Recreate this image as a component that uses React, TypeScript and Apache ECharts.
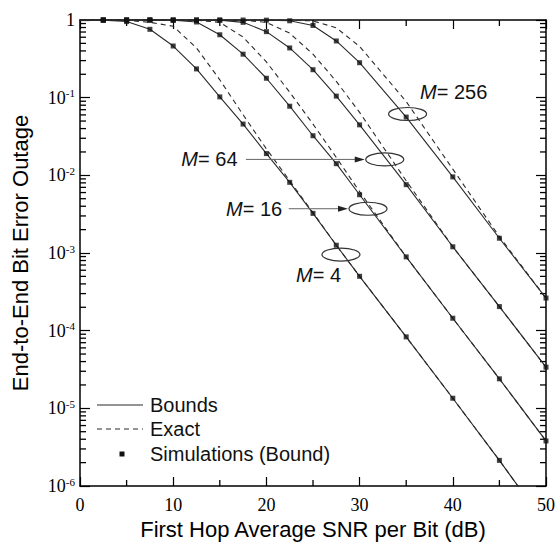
import React, { useEffect, useRef } from 'react';
import * as echarts from 'echarts';

// First hop average SNR per bit (dB)
const snr = [0, 2.5, 5, 7.5, 10, 12.5, 15, 17.5, 20, 22.5, 25, 27.5, 30, 35, 40, 45, 50];

// log10 of end-to-end bit error outage
const boundM4 = [0, -0.003, -0.02, -0.12, -0.335, -0.63, -0.99, -1.34, -1.72, -2.09, -2.49, -2.9, -3.3, -4.08, -4.87, -5.67, -6.5];
const exactM4 = [0, 0, -0.003, -0.03, -0.08, -0.36, -0.77, -1.22, -1.66, -2.07, -2.48, -2.9, -3.3, -4.08, -4.87, -5.67, -6.5];
const boundM16 = [0, 0, 0, 0, -0.003, -0.026, -0.19, -0.44, -0.75, -1.11, -1.49, -1.85, -2.25, -3.05, -3.84, -4.62, -5.42];
const exactM16 = [0, 0, 0, 0, 0, -0.003, -0.03, -0.22, -0.54, -0.93, -1.34, -1.77, -2.21, -3.05, -3.84, -4.62, -5.42];
const boundM64 = [0, 0, 0, 0, 0, 0, -0.002, -0.03, -0.15, -0.36, -0.64, -0.98, -1.35, -2.12, -2.92, -3.69, -4.47];
const exactM64 = [0, 0, 0, 0, 0, 0, 0, -0.003, -0.03, -0.17, -0.44, -0.79, -1.19, -2.07, -2.92, -3.69, -4.47];
const boundM256 = [0, 0, 0, 0, 0, 0, 0, 0, -0.002, -0.01, -0.07, -0.27, -0.55, -1.25, -2.02, -2.81, -3.58];
const exactM256 = [0, 0, 0, 0, 0, 0, 0, 0, 0, 0, -0.012, -0.1, -0.34, -1.05, -1.92, -2.79, -3.58];

// simulation points sit on the bound curves at these SNRs
const simSnr = [2.5, 5, 7.5, 10, 12.5, 15, 17.5, 20, 22.5, 25, 27.5, 30, 35, 40, 45, 50];

const boundSets = [boundM4, boundM16, boundM64, boundM256];
const exactSets = [exactM4, exactM16, exactM64, exactM256];

// minor tick positions
const minorMantissas = [2, 3, 4, 5, 6, 7, 8, 9];
const decades = [-6, -5, -4, -3, -2, -1];
const xMinorTicks = [5, 15, 25, 35, 45];

// annotations: label, ellipse center (snr, log10 outage), label position, arrow start snr
const annotations = [
  { label: '256', ex: 35.15, ey: -1.21, lx: 40.1, ly: -0.93, align: 'center', arrowFrom: null as number | null },
  { label: '64', ex: 32.7, ey: -1.795, lx: 16.9, ly: -1.795, align: 'right', arrowFrom: 17.8 },
  { label: '16', ex: 30.9, ey: -2.43, lx: 21.7, ly: -2.43, align: 'right', arrowFrom: 22.4 },
  { label: '4', ex: 28.0, ey: -3.02, lx: 25.6, ly: -3.28, align: 'center', arrowFrom: null as number | null },
];

const SANS = '"Liberation Sans", Arial, sans-serif';
const SERIF = '"Liberation Serif", "Times New Roman", serif';
const LINE = '#2a2a2a';

export default function App() {
  const ref = useRef<HTMLDivElement>(null);

  useEffect(() => {
    if (!ref.current) return;
    const chart = echarts.init(ref.current, null, { renderer: 'svg' });

    const toPts = (arr: number[]) => snr.map((x, i) => [x, Math.pow(10, arr[i])]);
    const series: any[] = [];
    boundSets.forEach((b) => {
      series.push({
        type: 'line', name: 'Bounds', data: toPts(b), showSymbol: false, symbol: 'none',
        lineStyle: { color: LINE, width: 1.1 }, z: 3,
      });
    });
    exactSets.forEach((e) => {
      series.push({
        type: 'line', name: 'Exact', data: toPts(e), showSymbol: false, symbol: 'none',
        lineStyle: { color: LINE, width: 1.1, type: [5, 4] }, z: 3,
      });
    });
    boundSets.forEach((b) => {
      const pts = simSnr
        .map((x) => [x, Math.pow(10, b[snr.indexOf(x)])])
        .filter((p) => p[1] >= 1e-6);
      series.push({
        type: 'scatter', name: 'Simulations (Bound)', data: pts, symbol: 'rect', symbolSize: 5,
        itemStyle: { color: '#111' }, z: 4,
      });
    });

    const axisLine = { show: true, onZero: false, lineStyle: { color: '#000', width: 1.5 } };
    const option: any = {
      animation: false,
      grid: { left: 80, right: 10, top: 20, bottom: 60 },
      xAxis: [
        {
          type: 'value', min: 0, max: 50, interval: 10, position: 'bottom',
          axisLine, splitLine: { show: false },
          axisTick: { inside: true, length: 9, lineStyle: { color: '#000', width: 1.2 } },
          axisLabel: { fontFamily: SERIF, fontSize: 18, color: '#000', margin: 10 },
          name: 'First Hop Average SNR per Bit (dB)', nameLocation: 'middle', nameGap: 32,
          nameTextStyle: { fontFamily: SANS, fontSize: 22, color: '#000' },
        },
        {
          type: 'value', min: 0, max: 50, interval: 10, position: 'top',
          axisLine, splitLine: { show: false },
          axisTick: { inside: true, length: 9, lineStyle: { color: '#000', width: 1.2 } },
          axisLabel: { show: false },
        },
      ],
      yAxis: [
        {
          type: 'log', logBase: 10, min: 1e-6, max: 1, splitNumber: 6, position: 'left',
          axisLine, splitLine: { show: false },
          axisTick: { inside: true, length: 10, lineStyle: { color: '#000', width: 1.2 } },
          axisLabel: {
            margin: 5,
            formatter: (v: number) => {
              const e = Math.round(Math.log10(v));
              return e === 0 ? '{b|1}' : `{b|10}{s|${e}}`;
            },
            rich: {
              b: { fontFamily: SERIF, fontSize: 18, color: '#000', lineHeight: 20 },
              s: { fontFamily: SERIF, fontSize: 11, color: '#000', lineHeight: 12, verticalAlign: 'top' },
            },
          },
          name: 'End-to-End Bit Error Outage', nameLocation: 'middle', nameGap: 49,
          nameTextStyle: { fontFamily: SANS, fontSize: 22, color: '#000' },
        },
        {
          type: 'log', logBase: 10, min: 1e-6, max: 1, splitNumber: 6, position: 'right',
          axisLine, splitLine: { show: false },
          axisTick: { inside: true, length: 10, lineStyle: { color: '#000', width: 1.2 } },
          axisLabel: { show: false },
        },
      ],
      series,
    };
    chart.setOption(option);

    // minor ticks, annotations and legend as graphics placed via the axes' scales
    const px = (x: number, ly: number) => chart.convertToPixel({ gridIndex: 0 }, [x, Math.pow(10, ly)]) as number[];
    const graphics: any[] = [];
    const TL = 6;
    decades.forEach((d) => minorMantissas.forEach((m) => {
      const ly = d + Math.log10(m);
      const l = px(0, ly);
      const r = px(50, ly);
      graphics.push({ type: 'line', shape: { x1: l[0], y1: l[1], x2: l[0] + TL, y2: l[1] }, style: { stroke: '#000', lineWidth: 1.3 } });
      graphics.push({ type: 'line', shape: { x1: r[0] - TL, y1: r[1], x2: r[0], y2: r[1] }, style: { stroke: '#000', lineWidth: 1.3 } });
    }));
    xMinorTicks.forEach((x) => {
      const b = px(x, -6);
      const t = px(x, 0);
      graphics.push({ type: 'line', shape: { x1: b[0], y1: b[1], x2: b[0], y2: b[1] - TL }, style: { stroke: '#000', lineWidth: 1.3 } });
      graphics.push({ type: 'line', shape: { x1: t[0], y1: t[1], x2: t[0], y2: t[1] + TL }, style: { stroke: '#000', lineWidth: 1.3 } });
    });

    const RX = 19, RY = 6.5;
    annotations.forEach((a) => {
      const c = px(a.ex, a.ey);
      graphics.push({
        type: 'ellipse', shape: { cx: c[0], cy: c[1], rx: RX, ry: RY },
        style: { fill: 'none', stroke: '#333', lineWidth: 1.2 }, z: 10,
      });
      const l = px(a.lx, a.ly);
      graphics.push({
        type: 'text', x: l[0], y: l[1], z: 10,
        style: {
          text: `{i|M}{n|= ${a.label}}`, textAlign: a.align, textVerticalAlign: 'middle',
          rich: {
            i: { fontFamily: SANS, fontSize: 20, fontStyle: 'italic', fill: '#111' },
            n: { fontFamily: SANS, fontSize: 20, fill: '#111' },
          },
        },
      });
      if (a.arrowFrom !== null) {
        const s = px(a.arrowFrom, a.ey);
        const tipX = c[0] - RX - 1;
        graphics.push({
          type: 'line', shape: { x1: s[0], y1: c[1], x2: tipX - 8, y2: c[1] },
          style: { stroke: '#666', lineWidth: 1 }, z: 10,
        });
        graphics.push({
          type: 'polygon', shape: { points: [[tipX, c[1]], [tipX - 10, c[1] - 3], [tipX - 10, c[1] + 3]] },
          style: { fill: '#222' }, z: 10,
        });
      }
    });
    // legend
    const lg = { x0: 97, x1: 143, tx: 150, ys: [405, 429, 454] };
    graphics.push({ type: 'line', shape: { x1: lg.x0, y1: lg.ys[0], x2: lg.x1, y2: lg.ys[0] }, style: { stroke: LINE, lineWidth: 1.1 } });
    graphics.push({ type: 'line', shape: { x1: lg.x0, y1: lg.ys[1], x2: lg.x1, y2: lg.ys[1] }, style: { stroke: LINE, lineWidth: 1.1, lineDash: [5, 4] } });
    graphics.push({ type: 'rect', shape: { x: 119.5, y: lg.ys[2] - 2.5, width: 5, height: 5 }, style: { fill: '#111' } });
    ['Bounds', 'Exact', 'Simulations (Bound)'].forEach((t, i) => {
      graphics.push({
        type: 'text', x: lg.tx, y: lg.ys[i],
        style: { text: t, fontFamily: SANS, fontSize: 20, fill: '#111', textAlign: 'left', textVerticalAlign: 'middle' },
      });
    });
    chart.setOption({ graphic: graphics });

    return () => chart.dispose();
  }, []);

  return (
    <div
      ref={ref}
      style={{ position: 'absolute', left: 0, top: 0, width: 558, height: 546, background: '#fff' }}
    />
  );
}
